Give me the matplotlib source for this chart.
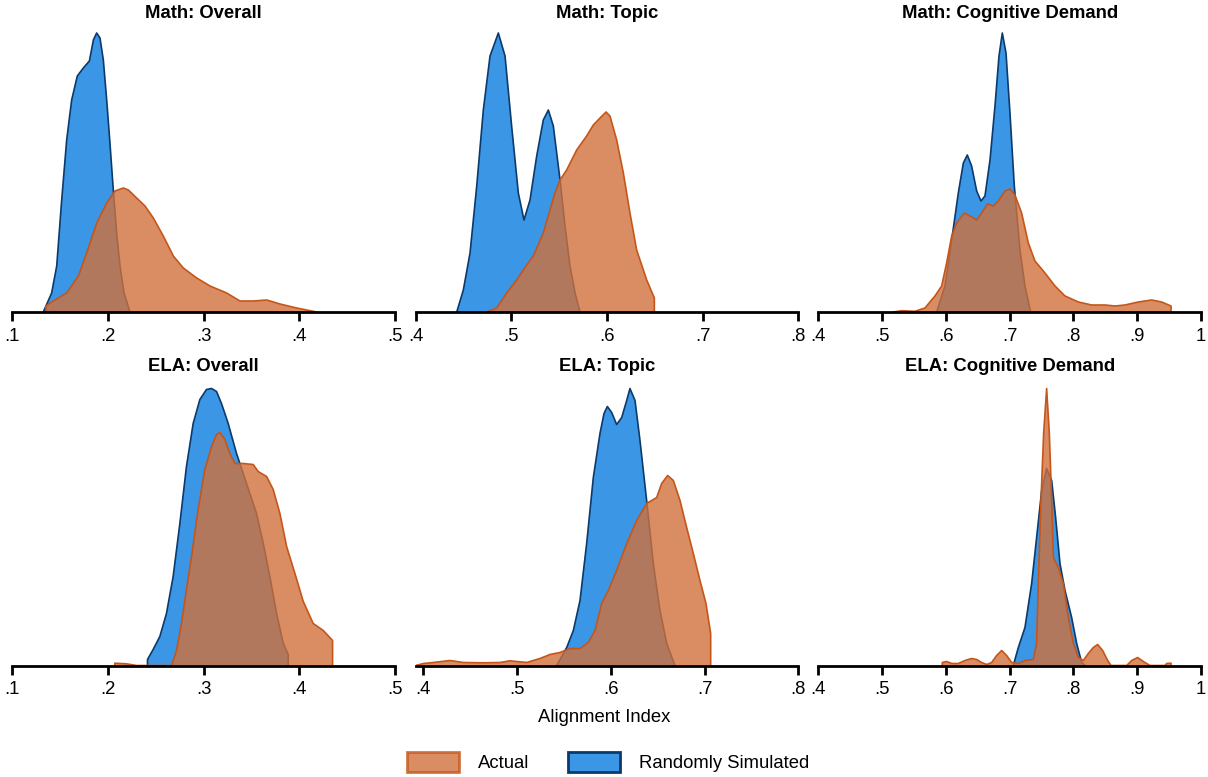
import matplotlib
matplotlib.use("Agg")
import matplotlib.pyplot as plt
from matplotlib.patches import Patch
import numpy as np

plt.rcParams['font.family'] = ['Liberation Sans', 'DejaVu Sans']

# density curves (x = alignment index, y = density, arbitrary units)
math_overall_sim_x = [.1327, .1414, .1467, .1519, .1571, .1623, .1682, .1745, .1808, .1850,
                      .1884, .1919, .1954, .1989, .2023, .2058, .2093, .2128, .2170, .2232]
math_overall_sim_y = [0, 19, 46, 112, 172, 212, 236, 244, 251, 272,
                      279, 274, 252, 212, 169, 122, 79, 46, 19, 0]
math_overall_act_x = [.1355, .1355, .1431, .1571, .1693, .1780, .1885, .1989, .2076, .2163,
                      .2215, .2302, .2389, .2476, .2580, .2685, .2789, .2929, .3068, .3242,
                      .3381, .3520, .3660, .3799, .3973, .4182]
math_overall_act_y = [0, 6, 11, 19, 36, 59, 89, 109, 121, 124,
                      122, 114, 106, 94, 76, 56, 44, 34, 26, 19,
                      11, 11, 12, 8, 4, 0]

math_topic_sim_x = [.4429, .4498, .4568, .4638, .4707, .4777, .4864, .4934, .5003, .5073,
                    .5132, .5195, .5265, .5334, .5387, .5439, .5509, .5561, .5613, .5666, .5718]
math_topic_sim_y = [0, 22, 59, 126, 202, 256, 279, 256, 186, 119,
                    92, 112, 156, 192, 202, 186, 132, 86, 46, 19, 0]
math_topic_act_x = [.4742, .4847, .4951, .5056, .5160, .5230, .5334, .5404, .5456, .5509,
                    .5578, .5683, .5787, .5857, .5927, .5990, .6031, .6101, .6171, .6240,
                    .6310, .6415, .6495, .6495]
math_topic_act_y = [0, 4, 19, 32, 47, 56, 79, 102, 119, 132,
                    142, 162, 176, 187, 194, 200, 196, 172, 139, 99,
                    62, 32, 14, 0]

math_cog_sim_x = [.5855, .5986, .6091, .6195, .6274, .6336, .6404, .6483, .6551, .6613,
                  .6692, .6770, .6833, .6885, .6943, .7005, .7073, .7162, .7240, .7329]
math_cog_sim_y = [0, 26, 72, 119, 149, 157, 146, 121, 111, 116,
                  152, 206, 256, 279, 259, 199, 126, 62, 26, 0]
math_cog_act_x = [.5176, .5307, .5516, .5672, .5829, .5934, .6012, .6091, .6169, .6289,
                  .6378, .6483, .6561, .6655, .6744, .6822, .6927, .7005, .7083, .7188,
                  .7293, .7397, .7554, .7711, .7868, .8077, .8286, .8495, .8652, .8808,
                  .9017, .9226, .9383, .9530, .9530]
math_cog_act_y = [0, 1.3, 0.7, 4, 16, 26, 49, 76, 89, 99,
                  96, 92, 99, 108, 106, 111, 121, 123, 117, 99,
                  69, 51, 39, 26, 16, 10, 7, 7, 6, 7,
                  10, 12, 10, 6, 0]

ela_overall_sim_x = [.2415, .2415, .2474, .2544, .2613, .2683, .2753, .2822, .2892, .2962,
                     .3031, .3084, .3136, .3188, .3258, .3345, .3415, .3484, .3554, .3624,
                     .3693, .3763, .3833, .3885, .3885]
ela_overall_sim_y = [0, 6, 16, 29, 52, 89, 142, 199, 242, 266,
                     276, 277, 274, 262, 242, 212, 192, 172, 152, 122,
                     89, 52, 22, 11, 0]
ela_overall_act_x = [.2073, .2073, .2195, .2300, .2666, .2718, .2770, .2822, .2875, .2944,
                     .3014, .3084, .3136, .3171, .3223, .3275, .3328, .3415, .3519, .3571,
                     .3659, .3728, .3798, .3868, .3955, .4042, .4146, .4251, .4348, .4348]
ela_overall_act_y = [0, 2.3, 1.7, 0, 0, 15, 42, 76, 109, 156,
                     196, 219, 231, 233, 226, 212, 202, 202, 201, 194,
                     189, 176, 152, 119, 92, 64, 42, 35, 25, 0]

ela_topic_sim_x = [.5422, .5529, .5600, .5671, .5742, .5813, .5884, .5927, .5963, .6009,
                   .6062, .6116, .6169, .6204, .6258, .6311, .6382, .6453, .6524, .6596, .6684]
ela_topic_sim_y = [0, 18, 35, 65, 122, 188, 232, 252, 259, 253,
                   241, 248, 265, 277, 265, 225, 165, 102, 55, 22, 0]
ela_topic_act_x = [.3918, .4000, .4107, .4284, .4427, .4640, .4818, .4924, .5102, .5244,
                   .5351, .5458, .5564, .5671, .5760, .5831, .5902, .5973, .6062, .6169,
                   .6276, .6382, .6489, .6542, .6606, .6667, .6738, .6809, .6880, .6951,
                   .7015, .7065, .7065]
ela_topic_act_y = [0, 2, 3, 5, 3, 2.7, 3, 4.7, 3, 7,
                   11, 13, 17, 17, 23, 35, 62, 75, 95, 122,
                   145, 162, 168, 182, 190, 185, 165, 138, 112, 85,
                   62, 32, 0]

ela_cog_sim_x = [.7057, .7136, .7240, .7345, .7423, .7502, .7580, .7659, .7721, .7789,
                 .7868, .7972, .8051, .8129, .8181]
ela_cog_sim_y = [0, 18, 38, 82, 128, 175, 197, 185, 148, 102,
                 75, 48, 22, 3, 0]
ela_cog_act_x = [.5944, .5944, .6012, .6091, .6195, .6300, .6404, .6483, .6561, .6640,
                 .6718, .6796, .6875, .6953, .7031, .7136, .7240, .7371, .7423, .7449,
                 .7491, .7533, .7580, .7622, .7659, .7685, .7763, .7842, .7920, .8000,
                 .8077, .8155, .8233, .8312, .8380, .8458, .8537, .8589, .8835, .8913,
                 .9007, .9096, .9200, .9436, .9462, .9530, .9530]
ela_cog_act_y = [0, 3, 4, 2, 2, 5, 7, 6, 3, 1,
                 3, 10, 15, 10, 3, 2, 5, 6, 22, 82,
                 165, 232, 277, 232, 165, 108, 98, 82, 48, 22,
                 8, 5, 12, 18, 21, 15, 5, 0, 0, 5,
                 8, 4, 0, 0, 2, 2.3, 0]

titles = ["Math: Overall", "Math: Topic", "Math: Cognitive Demand",
          "ELA: Overall", "ELA: Topic", "ELA: Cognitive Demand"]
xlims = [(.1, .5), (.4, .8), (.4, 1.0), (.1, .5), (.3918, .8), (.4, 1.0)]
xticks = [[.1, .2, .3, .4, .5], [.4, .5, .6, .7, .8], [.4, .5, .6, .7, .8, .9, 1.0],
          [.1, .2, .3, .4, .5], [.4, .5, .6, .7, .8], [.4, .5, .6, .7, .8, .9, 1.0]]
sim = [(math_overall_sim_x, math_overall_sim_y), (math_topic_sim_x, math_topic_sim_y),
       (math_cog_sim_x, math_cog_sim_y), (ela_overall_sim_x, ela_overall_sim_y),
       (ela_topic_sim_x, ela_topic_sim_y), (ela_cog_sim_x, ela_cog_sim_y)]
act = [(math_overall_act_x, math_overall_act_y), (math_topic_act_x, math_topic_act_y),
       (math_cog_act_x, math_cog_act_y), (ela_overall_act_x, ela_overall_act_y),
       (ela_topic_act_x, ela_topic_act_y), (ela_cog_act_x, ela_cog_act_y)]

blue_fill = '#3C96E6'
blue_edge = '#0B3A6B'
orange_fill = '#D1713B'
orange_edge = '#C5561A'
fs = 13.3

W, H = 1208, 777
fig = plt.figure(figsize=(W / 100, H / 100), dpi=100)

# panel geometry in pixels: left edge, width; baseline of each row
lefts = [12, 415.7, 818.3]
widths = [383, 382.6, 382.7]
baselines = [312, 665.5]
ax_h = 290

def fmt(v):
    if abs(v - 1) < 1e-9:
        return "1"
    return f"{v:.1f}".lstrip('0')

for i in range(6):
    r, c = divmod(i, 3)
    ax = fig.add_axes([lefts[c] / W, 1 - baselines[r] / H, widths[c] / W, ax_h / H])
    sx, sy = sim[i]
    ax_, ay_ = act[i]
    ax.fill_between(sx, sy, 0, facecolor=blue_fill, edgecolor='none', zorder=2)
    ax.plot(sx, sy, color=blue_edge, lw=1.2, zorder=3)
    ax.fill_between(ax_, ay_, 0, facecolor=orange_fill, edgecolor='none', alpha=0.8, zorder=4)
    ax.plot(ax_, ay_, color=orange_edge, lw=1.2, zorder=5)
    ax.set_xlim(*xlims[i])
    ax.set_ylim(0, ax_h)
    ax.set_xticks(xticks[i])
    ax.set_xticklabels([fmt(v) for v in xticks[i]])
    ax.set_yticks([])
    for s in ['left', 'right', 'top']:
        ax.spines[s].set_visible(False)
    ax.spines['bottom'].set_linewidth(2)
    ax.spines['bottom'].set_zorder(6)
    ax.tick_params(axis='x', direction='out', length=6.5, width=2, labelsize=fs, pad=5)
    ax.set_title(titles[i], fontsize=fs, fontweight='bold', pad=1.2)
    ax.patch.set_alpha(0)

fig.text(604 / W, 1 - 718 / H, "Alignment Index", ha='center', va='center', fontsize=fs)

handles = [Patch(facecolor=orange_fill, edgecolor=orange_edge, alpha=0.8, lw=2, label='Actual'),
           Patch(facecolor=blue_fill, edgecolor=blue_edge, lw=2, label='Randomly Simulated')]
fig.legend(handles=handles, loc='center', bbox_to_anchor=(608 / W, 1 - 762 / H), ncol=2,
           frameon=False, fontsize=fs, handlelength=2.8, handleheight=1.3,
           handletextpad=1.03, columnspacing=2.1)

fig.savefig("out.png", dpi=100)
